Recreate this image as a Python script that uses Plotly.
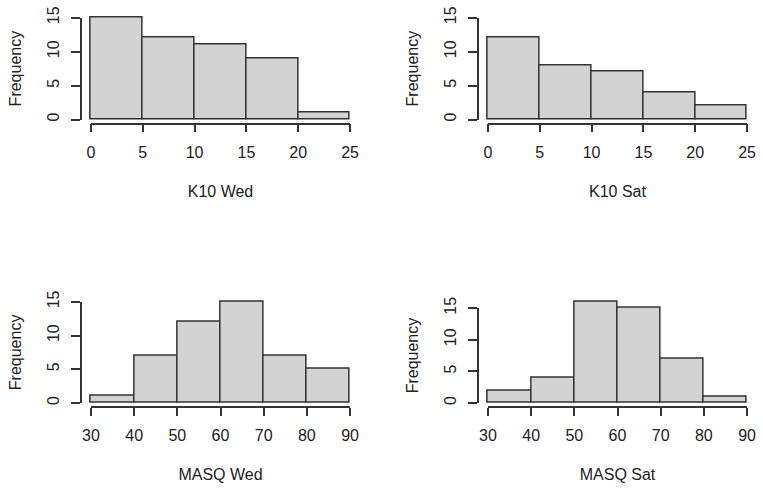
import plotly.graph_objects as go

# histogram data (bin edges and counts)
k10_breaks = [0, 5, 10, 15, 20, 25]
k10_wed_counts = [15, 12, 11, 9, 1]
k10_sat_counts = [12, 8, 7, 4, 2]

masq_breaks = [30, 40, 50, 60, 70, 80, 90]
masq_wed_counts = [1, 7, 12, 15, 7, 5]
masq_sat_counts = [2, 4, 16, 15, 7, 1]

freq_ticks = [0, 5, 10, 15]

panels = [
    ("K10 Wed", k10_breaks, k10_wed_counts, 15),
    ("K10 Sat", k10_breaks, k10_sat_counts, 15),
    ("MASQ Wed", masq_breaks, masq_wed_counts, 15),
    ("MASQ Sat", masq_breaks, masq_sat_counts, 16),
]

W, H = 763, 489
# R-style plot regions in pixels (left, right, top, bottom)
col_x = [(80.6, 360.4), (477.6, 757.4)]
row_y = [(13.6, 123.6), (297.8, 407.0)]

FONT = "Liberation Sans, Arial, sans-serif"
LINE = "#333333"
TEXT = "#222222"


def px_x(v):
    return v / W


def px_y(v):
    return 1 - v / H


fig = go.Figure()
layout = {}

for i, (label, breaks, counts, ylim) in enumerate(panels):
    n = i + 1
    f = n + 4
    x0, x1 = col_x[i % 2]
    top, bot = row_y[i // 2]
    # inner data area (R adds 4% on each side)
    pw = (x1 - x0) / 1.08
    ph = (bot - top) / 1.08
    ix0 = x0 + 0.04 * pw
    ix1 = ix0 + pw
    iy0 = bot - 0.04 * ph  # y = 0
    iy_tick = iy0 - ph * freq_ticks[-1] / ylim
    xspan = breaks[-1] - breaks[0]

    mids = [(a + b) / 2 for a, b in zip(breaks[:-1], breaks[1:])]
    widths = [b - a for a, b in zip(breaks[:-1], breaks[1:])]

    fig.add_trace(go.Bar(
        x=mids, y=counts, width=widths,
        marker=dict(color="#D3D3D3", line=dict(color=LINE, width=1.5)),
        xaxis=f"x{n}", yaxis=f"y{n}", showlegend=False, hoverinfo="x+y",
    ))
    # empty trace for the R-style axes (lines span first..last tick only)
    fig.add_trace(go.Scatter(
        x=[], y=[], xaxis=f"x{f}", yaxis=f"y{f}", showlegend=False,
        hoverinfo="skip",
    ))

    hidden = dict(showline=False, showticklabels=False, ticks="",
                  showgrid=False, zeroline=False, automargin=False)
    layout[f"xaxis{n}"] = dict(
        domain=[px_x(x0), px_x(x1)],
        range=[breaks[0] - 0.04 * xspan, breaks[-1] + 0.04 * xspan],
        anchor=f"y{n}", **hidden,
    )
    layout[f"yaxis{n}"] = dict(
        domain=[px_y(bot), px_y(top)],
        range=[-0.04 * ylim, 1.04 * ylim],
        anchor=f"x{n}", **hidden,
    )

    layout[f"xaxis{f}"] = dict(
        domain=[px_x(ix0), px_x(ix1)], range=[breaks[0], breaks[-1]],
        anchor="free", position=px_y(bot),
        tickvals=breaks, ticks="outside", ticklen=8, tickwidth=1.5,
        tickcolor=LINE, showline=True, linecolor=LINE, linewidth=1.5,
        showgrid=False, zeroline=False, automargin=False,
        tickfont=dict(family=FONT, size=16, color=TEXT),
        ticklabelstandoff=6,
        title=dict(text=label, font=dict(family=FONT, size=16, color=TEXT),
                   standoff=25),
    )
    layout[f"yaxis{f}"] = dict(
        domain=[px_y(iy0), px_y(iy_tick)], range=[0, freq_ticks[-1]],
        anchor="free", position=px_x(x0),
        tickvals=freq_ticks, ticks="outside", ticklen=9, tickwidth=1.5,
        tickcolor=LINE, showline=True, linecolor=LINE, linewidth=1.5,
        showgrid=False, zeroline=False, automargin=False, tickangle=-90,
        tickfont=dict(family=FONT, size=16, color=TEXT),
        ticklabelstandoff=5,
        title=dict(text="Frequency", font=dict(family=FONT, size=16, color=TEXT),
                   standoff=19),
    )

fig.update_layout(
    width=W, height=H,
    margin=dict(l=0, r=0, t=0, b=0),
    paper_bgcolor="white", plot_bgcolor="rgba(0,0,0,0)",
    bargap=0, **layout,
)

fig.write_html(
    "out.html",
    config={"displayModeBar": False},
    post_script="document.body.style.margin='0';document.body.style.overflow='hidden';",
)
